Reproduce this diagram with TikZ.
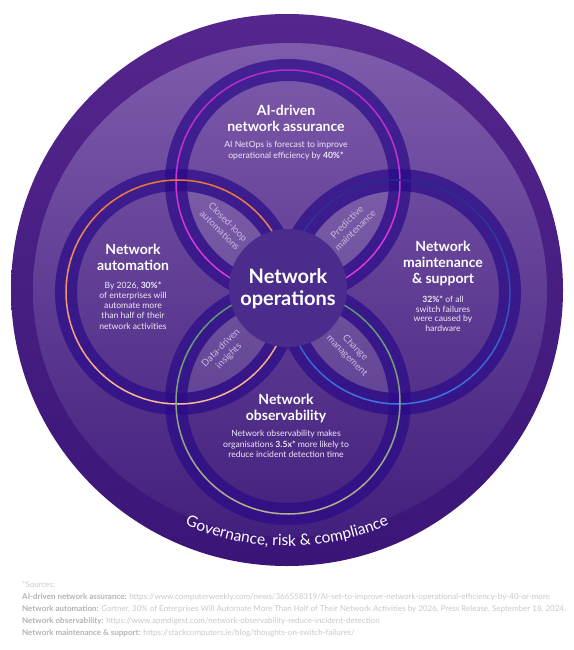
\documentclass[tikz,border=0pt]{standalone}
\usepackage{fontspec}
\setmainfont{Lato}
\usetikzlibrary{decorations.text}
\definecolor{rimtop}{HTML}{55268D}
\definecolor{rimbot}{HTML}{3A1577}
\definecolor{disctop}{HTML}{7E5BAB}
\definecolor{discmid}{HTML}{63439B}
\definecolor{discbot}{HTML}{42207D}
\definecolor{bandc}{HTML}{2A0A88}
\definecolor{hubc}{HTML}{4B2C8D}
\definecolor{bodytext}{HTML}{EEE8F6}
\definecolor{lenstext}{HTML}{C8BAE2}
\definecolor{srcgrey}{HTML}{C9C9C9}
\definecolor{srclab}{HTML}{B4B4B4}
\definecolor{magtop}{HTML}{B02CC8}
\definecolor{magbot}{HTML}{E23AE0}
\definecolor{orgtop}{HTML}{E8743A}
\definecolor{orgbot}{HTML}{F6B994}
\definecolor{blutop}{HTML}{27288A}
\definecolor{blubot}{HTML}{3F74E6}
\definecolor{grntop}{HTML}{4E9670}
\definecolor{grnbot}{HTML}{B8AE8C}
\newcommand\gradring[4]{%
  \foreach \aa in {0,6,...,354}{%
    \pgfmathtruncatemacro\pp{50+50*sin(\aa+3)}%
    \draw[ringline, draw=#3!\pp!#4] (#1) ++(\aa:#2) arc[start angle=\aa, end angle=\aa+6.6, radius=#2];
  }}
\begin{document}
\begin{tikzpicture}[x=1pt,y=1pt,
  head/.style={font=\fontsize{14}{15.8}\selectfont\bfseries, text=white, align=center, inner sep=0, anchor=base},
  body/.style={font=\fontsize{8.6}{10.6}\selectfont, text=bodytext, align=center, inner sep=0, anchor=base},
  lenslbl/.style={font=\fontsize{9.5}{11.5}\selectfont, text=lenstext, align=center, inner sep=0},
  src/.style={font=\fontsize{8}{9}\selectfont, text=srcgrey, anchor=base west, inner sep=0},
  band/.style={fill=bandc, fill opacity=0.7, even odd rule},
  lens/.style={fill=white, fill opacity=0.1},
  ringline/.style={line width=1.5pt, line cap=butt}]
\useasboundingbox (0,0) rectangle (573,-650);
\fill[white] (0,0) rectangle (573,-650);
% outer rim and inner disc
\shade[top color=rimtop, bottom color=rimbot] (287,-290) circle (276);
\shade[top color=disctop, middle color=discmid, bottom color=discbot] (290,-290) ellipse (257 and 247);
% circle centres
\coordinate (C) at (288,-292);
\coordinate (T) at (288,-182);
\coordinate (L) at (178,-292);
\coordinate (R) at (398,-292);
\coordinate (B) at (288,-402);
% lenses
\begin{scope}\clip (T) circle (101); \fill[lens] (L) circle (101); \fill[lens] (R) circle (101);\end{scope}
\begin{scope}\clip (B) circle (101); \fill[lens] (L) circle (101); \fill[lens] (R) circle (101);\end{scope}
% bands
\fill[band] (T) circle (123) circle (101);
\fill[band] (L) circle (123) circle (101);
\fill[band] (R) circle (123) circle (101);
\fill[band] (B) circle (123) circle (101);
% coloured rings
\gradring{T}{112}{magtop}{magbot}
\gradring{L}{112}{orgtop}{orgbot}
\gradring{R}{112}{blutop}{blubot}
\gradring{B}{112}{grntop}{grnbot}
% hub
\node[circle, fill=hubc, minimum size=118pt, inner sep=0] (hub) at (288,-288) {};
\node[font=\fontsize{20}{22}\selectfont\bfseries, text=white, align=center, inner sep=0, anchor=base] (hubtxt) at (288,-305) {Network\\operations};
% headings and bodies (base anchor = last line baseline)
\node[head] (th) at (286,-131.7) {AI-driven\\network assurance};
\node[body] (tb) at (286,-158) {AI NetOps is forecast to improve\\operational efficiency by \textbf{40\%*}};
\node[head] (lh) at (133,-270.7) {Network\\automation};
\node[body, font=\fontsize{8.6}{10.2}\selectfont] (lb) at (133,-329) {By 2026, \textbf{30\%*}\\of enterprises will\\automate more\\than half of their\\network activities};
\node[head] (rh) at (443,-283) {Network\\maintenance\\\& support};
\node[body, font=\fontsize{8.6}{9.8}\selectfont] (rb) at (443,-331.7) {\textbf{32\%*} of all\\switch failures\\were caused by\\hardware};
\node[head] (bh) at (286,-420.7) {Network\\observability};
\node[body] (bb) at (286,-457.7) {Network observability makes\\organisations \textbf{3.5x*} more likely to\\reduce incident detection time};
% lens labels
\node[lenslbl, rotate=-45] (l1) at (224,-226) {Closed-loop\\automations};
\node[lenslbl, rotate=45] (l2) at (351,-226) {Predictive\\maintenance};
\node[lenslbl, rotate=45] (l3) at (225,-352) {Data-driven\\insights};
\node[lenslbl, rotate=-45] (l4) at (351,-352) {Change\\management};
% governance arc text
\path[decorate, decoration={text along path, text align=center, text color=white,
  text={|\fontsize{15.5}{18}\selectfont|Governance, risk {\&} compliance}}]
  (287,-290) ++(228:256) arc[start angle=228, end angle=312, radius=256];
% sources
\node[src] (s0) at (22,-587) {*Sources:};
\node[src] (s1) at (22,-599) {\textbf{\color{srclab}AI-driven network assurance:} https://www.computerweekly.com/news/366558319/AI-set-to-improve-network-operational-efficiency-by-40-or-more};
\node[src] (s2) at (22,-611) {\textbf{\color{srclab}Network automation:} Gartner, 30\% of Enterprises Will Automate More Than Half of Their Network Activities by 2026, Press Release, September 18, 2024.};
\node[src] (s3) at (22,-623) {\textbf{\color{srclab}Network observability:} https://www.apmdigest.com/network-observability-reduce-incident-detection};
\node[src] (s4) at (22,-635) {\textbf{\color{srclab}Network maintenance \& support:} https://stackcomputers.ie/blog/thoughts-on-switch-failures/};
\end{tikzpicture}
\end{document}
